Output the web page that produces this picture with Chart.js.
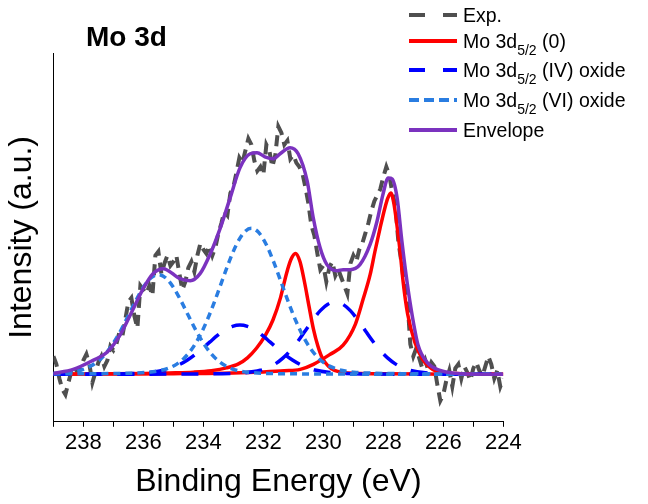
<!DOCTYPE html>
<html lang="en">

<head>
  <meta charset="UTF-8">
  <title>Mo 3d</title>
  <style>
    body { margin: 0; background: #fff; }
    #xps { display: block; }
  </style>
</head>

<body>
  <canvas id="xps" width="648" height="504"></canvas>

  <script src="https://cdn.jsdelivr.net/npm/chart.js@4.4.1/dist/chart.umd.min.js"></script>

  <script>
    const FONT = '"Liberation Sans", Arial, sans-serif';

    // measured spectrum, 239.0 -> 224.0 eV every 0.1 eV
    const expStart = 239.0;
    const expStep = 0.1;
    const expCounts = [
      18, 10, -4, -15, -20, -8, 3, 8, 2, 5,
      14, 20, 10, -8, 2, 12, 18, 8, 14, 28,
      24, 30, 42, 38, 55, 72, 76, 58, 46, 88,
      84, 80, 88, 78, 118, 122, 100, 110, 118, 108,
      112, 118, 100, 84, 92, 106, 112, 102, 118, 130,
      124, 120, 128, 118, 126, 140, 150, 162, 158, 180,
      186, 200, 215, 210, 222, 234, 228, 212, 202, 206,
      198, 228, 222, 206, 218, 246, 240, 228, 232, 214,
      218, 210, 206, 200, 186, 170, 148, 138, 120, 104,
      108, 92, 106, 112, 98, 104, 96, 88, 80, 110,
      118, 112, 124, 130, 140, 150, 162, 172, 178, 184,
      196, 206, 198, 180, 168, 132, 112, 88, 76, 30,
      18, 26, 16, 6, 14, 4, 12, 8, -10, -26,
      -20, -6, 4, -12, 6, 10, -4, 8, 2, -6,
      6, 12, 4, -2, 8, 18, 10, -4, 4, -12,
      -4
    ];

    // Mo(0) peaks
    const mo0aE = [239, 235.93, 234.93, 234.33, 233.73, 233.23, 232.83, 232.53, 232.23, 231.93, 231.68, 231.43, 231.23, 231.08, 230.93, 230.78, 230.63, 230.48, 230.33, 230.18, 230.03, 229.83, 229.63, 229.33, 228.93, 227.93, 225.93, 224];
    const mo0aI = [0.3, 1.0, 1.6, 2.3, 3.8, 6.5, 10.5, 16.5, 26, 39, 54, 76, 100, 114, 120, 112, 92, 68, 45, 28, 16, 8, 4, 2, 1.2, 0.6, 0.3, 0.2];
    const mo0bE = [239, 235, 233, 232, 231.3, 230.77, 230.33, 229.77, 229.34, 228.93, 228.67, 228.44, 228.28, 228.11, 227.95, 227.85, 227.75, 227.65, 227.55, 227.44, 227.34, 227.19, 226.95, 226.69, 226.35, 225.98, 225.4, 224];
    const mo0bI = [0.3, 0.8, 1.5, 2.5, 3.6, 5, 10, 20, 29, 50, 75, 99, 122, 145, 165, 175, 180, 170, 149, 122, 92, 60, 32, 15, 5, 1.8, 0.8, 0.3];

    // MoO2 (IV)
    const mo4aE = [239, 237.28, 236.28, 235.78, 235.28, 235.03, 234.78, 234.53, 234.28, 234.03, 233.78, 233.53, 233.28, 233.03, 232.78, 232.53, 232.28, 232.03, 231.78, 231.53, 231.28, 231.03, 230.78, 230.53, 230.28, 229.78, 229.28, 228.28, 224];
    const mo4aI = [0.2, 0.4, 0.9, 1.9, 4.4, 6.8, 10.0, 14.3, 19.6, 25.8, 32.3, 38.7, 44.1, 47.7, 49, 47.7, 44.1, 38.7, 32.3, 25.8, 19.6, 14.3, 10.0, 6.8, 4.4, 1.9, 0.9, 0.4, 0.1];
    const mo4bE = [239, 234.1, 233.1, 232.6, 232.1, 231.85, 231.6, 231.35, 231.1, 230.85, 230.6, 230.35, 230.1, 229.85, 229.6, 229.35, 229.1, 228.85, 228.6, 228.35, 228.1, 227.85, 227.6, 227.35, 227.1, 226.6, 226.1, 225.1, 224];
    const mo4bI = [0.2, 0.5, 0.9, 1.7, 4.1, 6.6, 10.5, 16.2, 23.7, 32.9, 43.4, 54.0, 63.3, 69.6, 72, 69.6, 63.3, 54.0, 43.4, 32.9, 23.7, 16.2, 10.5, 6.6, 4.1, 1.7, 0.9, 0.5, 0.3];

    // MoO3 (VI)
    const mo6aE = [239, 238.5, 238.25, 238, 237.75, 237.5, 237.25, 237, 236.75, 236.5, 236.25, 236, 235.75, 235.5, 235.25, 235, 234.75, 234.5, 234.25, 234, 233.75, 233.5, 233.25, 233, 232.75, 232.5, 232, 231, 229, 224];
    const mo6aI = [1.1, 2.1, 3.2, 5.1, 8.3, 13.4, 20.9, 31.1, 43.8, 58.4, 73.3, 86.5, 95.7, 99, 95.7, 86.5, 73.3, 58.4, 43.8, 31.1, 20.9, 13.4, 8.3, 5.1, 3.2, 2.1, 1.1, 0.6, 0.3, 0.1];
    const mo6bE = [239, 236.4, 235.9, 235.4, 235.15, 234.9, 234.65, 234.4, 234.15, 233.9, 233.65, 233.4, 233.15, 232.9, 232.65, 232.4, 232.15, 231.9, 231.65, 231.4, 231.15, 230.9, 230.65, 230.4, 230.15, 229.9, 229.65, 229.4, 228.9, 228.4, 227.4, 224];
    const mo6bI = [0.5, 1.3, 2.0, 4.1, 6.4, 10.0, 15.9, 24.5, 36.5, 52.0, 70.5, 90.9, 111.2, 128.7, 140.7, 145, 140.7, 128.7, 111.2, 90.9, 70.5, 52.0, 36.5, 24.5, 15.9, 10.0, 6.4, 4.1, 2.0, 1.3, 0.8, 0.3];

    // sum of the fit
    const envE = [239, 238.34, 237.68, 237.21, 236.78, 236.34, 236.01, 235.68, 235.34, 234.78, 234.44, 234.11, 233.78, 233.44, 233.11, 232.78, 232.44, 232.21, 231.95, 231.68, 231.44, 231.11, 230.84, 230.54, 230.34, 230.11, 229.88, 229.54, 229.34, 229.11, 228.78, 228.44, 228.21, 228.01, 227.84, 227.71, 227.54, 227.38, 227.21, 227.04, 226.84, 226.54, 226.11, 225.21, 224];
    const envI = [1, 5, 14, 22, 39, 65, 85, 100, 105, 95, 93, 100, 119, 145, 175, 205, 219, 220, 216, 214, 219, 225, 219, 192, 156, 126, 109, 103, 104, 104, 109, 129, 152, 179, 195, 194, 175, 132, 92, 59, 29, 12, 4, 0.5, 0.2];

    const xTicks = [238, 236, 234, 232, 230, 228, 226, 224];

    const GREY = '#4f4f4f';
    const RED = '#ff0000';
    const BLUE = '#0000ff';
    const SKY = '#2a7de1';
    const VIOLET = '#7b32bf';

    function pts(xs, ys) {
      return xs.map((x, i) => ({ x: x, y: ys[i] }));
    }

    const expPts = expCounts.map((y, i) => ({ x: +(expStart - i * expStep).toFixed(1), y: y }));

    function fitLine(label, xs, ys, color, dash, keyDash, order) {
      return {
        label: label,
        data: pts(xs, ys),
        borderColor: color,
        borderWidth: 3.5,
        borderDash: dash,
        keyDash: keyDash,
        cubicInterpolationMode: 'monotone',
        pointRadius: 0,
        fill: false,
        order: order
      };
    }

    // title and key (with subscripts) drawn on the canvas
    const keyRows = [15, 41, 70, 100, 130];

    function drawKeyLabel(ctx, text, x, base) {
      const m = text.match(/^(.*)_\{(.*)\}(.*)$/);
      ctx.textBaseline = 'alphabetic';
      ctx.font = '19.5px ' + FONT;
      if (!m) {
        ctx.fillText(text, x, base);
        return;
      }
      ctx.fillText(m[1], x, base);
      x += ctx.measureText(m[1]).width;
      ctx.font = '14px ' + FONT;
      ctx.fillText(m[2], x, base + 6.5);
      x += ctx.measureText(m[2]).width;
      ctx.font = '19.5px ' + FONT;
      ctx.fillText(m[3], x, base);
    }

    const titleAndKey = {
      id: 'titleAndKey',
      afterDraw(chart) {
        const ctx = chart.ctx;
        ctx.save();
        ctx.fillStyle = '#000';
        ctx.font = 'bold 28px ' + FONT;
        ctx.textBaseline = 'middle';
        ctx.fillText('Mo 3d', 86, 38);

        let row = 0;
        chart.data.datasets.forEach(ds => {
          if (!ds.keyDash) return;
          const y = keyRows[row++];
          ctx.strokeStyle = ds.borderColor;
          ctx.lineWidth = 4;
          ctx.setLineDash(ds.keyDash);
          ctx.beginPath();
          ctx.moveTo(409, y);
          ctx.lineTo(457, y);
          ctx.stroke();
          ctx.setLineDash([]);
          ctx.fillStyle = '#000';
          drawKeyLabel(ctx, ds.label, 463, y + 7);
        });
        ctx.restore();
      }
    };

    new Chart(document.getElementById('xps'), {
      type: 'line',
      data: {
        datasets: [
          {
            label: 'Exp.',
            data: expPts,
            borderColor: GREY,
            borderWidth: 4,
            borderDash: [11, 7],
            keyDash: [16, 18],
            tension: 0,
            pointRadius: 0,
            fill: false,
            order: 4
          },
          fitLine('Mo 3d_{5/2} (0)', mo0aE, mo0aI, RED, [], [], 3),
          fitLine('Mo 3d_{5/2} (0)', mo0bE, mo0bI, RED, [], null, 3),
          fitLine('Mo 3d_{5/2} (IV) oxide', mo4aE, mo4aI, BLUE, [17, 15], [16, 18], 2),
          fitLine('Mo 3d_{5/2} (IV) oxide', mo4bE, mo4bI, BLUE, [17, 15], null, 2),
          fitLine('Mo 3d_{5/2} (VI) oxide', mo6aE, mo6aI, SKY, [7, 5], [10, 5], 1),
          fitLine('Mo 3d_{5/2} (VI) oxide', mo6bE, mo6bI, SKY, [7, 5], null, 1),
          fitLine('Envelope', envE, envI, VIOLET, [], [], 0)
        ]
      },
      options: {
        responsive: false,
        animation: false,
        layout: { padding: { left: 3, top: 53, right: 144.7, bottom: 1 } },
        plugins: {
          legend: { display: false },
          tooltip: { enabled: false }
        },
        scales: {
          x: {
            type: 'linear',
            reverse: true,
            min: 224,
            max: 239,
            ticks: {
              stepSize: 1,
              autoSkip: false,
              maxRotation: 0,
              padding: 3,
              color: '#000',
              font: { family: FONT, size: 22 },
              callback: v => xTicks.includes(Math.round(v)) ? String(Math.round(v)) : ''
            },
            grid: {
              display: true,
              drawOnChartArea: false,
              drawTicks: true,
              tickLength: 5,
              color: '#000',
              lineWidth: 1
            },
            border: { display: true, color: '#000', width: 1 },
            title: {
              display: true,
              text: 'Binding Energy (eV)',
              color: '#000',
              font: { family: FONT, size: 32 },
              padding: { top: 3.4, bottom: 2 }
            }
          },
          y: {
            min: -47,
            max: 319,
            ticks: { display: false },
            grid: { display: false, drawTicks: false },
            border: { display: true, color: '#000', width: 1 },
            title: {
              display: true,
              text: 'Intensity (a.u.)',
              color: '#000',
              font: { family: FONT, size: 32 },
              padding: { top: 0, bottom: 12 }
            }
          }
        }
      },
      plugins: [titleAndKey]
    });
  </script>
</body>

</html>
